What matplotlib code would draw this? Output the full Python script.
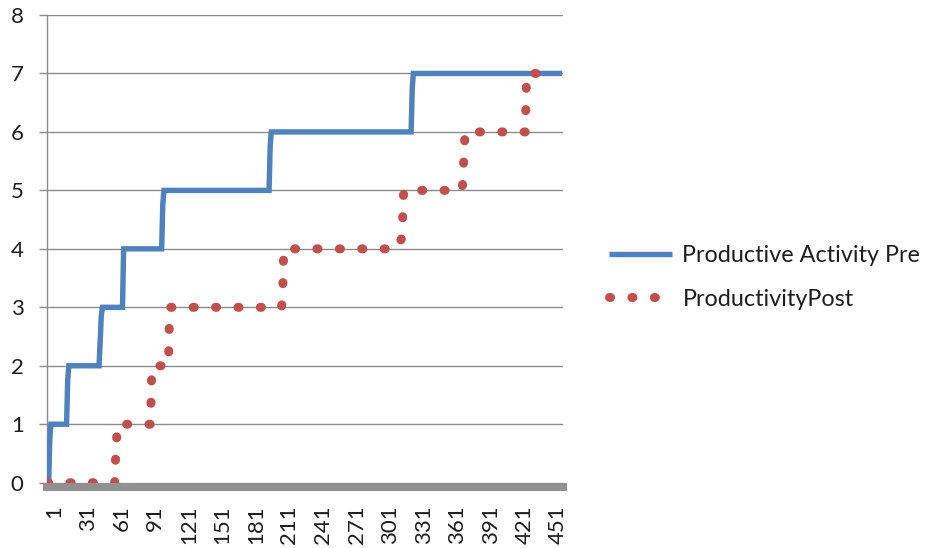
import matplotlib
matplotlib.use("Agg")
import matplotlib.pyplot as plt
import matplotlib.transforms as mtransforms
from matplotlib.lines import Line2D

# Day index (category number) and activity level at each vertex of the two curves
n_days = 461
pre_day = [1, 2, 3, 4, 18, 19, 20, 47, 48, 49, 50, 68, 69, 103, 104, 105,
           199, 200, 201, 326, 327, 328, 461]
pre_level = [0, 0, 0.75, 1, 1, 1.75, 2, 2, 2.4, 2.85, 3, 3, 4, 4, 4.75, 5,
             5, 5.75, 6, 6, 6.75, 7, 7]

post_day = [1, 61, 62, 63, 64, 93, 94, 95, 109, 110, 111, 210, 211, 212, 213,
            313, 318, 319, 320, 371, 372, 373, 374, 375, 428, 429, 430, 439]
post_level = [0, 0, 0.5, 0.85, 1, 1, 1.8, 2, 2, 2.85, 3, 3, 3.1, 3.9, 4,
              4, 4.2, 4.9, 5, 5, 5.1, 5.5, 5.9, 6, 6, 6.8, 7, 7]

series_names = ["Productive Activity Pre", "ProductivityPost"]
x_tick_days = list(range(1, 452, 30))
y_ticks = list(range(0, 9))

BLUE = "#4F81BD"
RED = "#C0504D"
GRID = "#8c8c8c"
TEXT = "#1e1e1e"
FS = 16

plt.rcParams["font.family"] = ["Lato", "DejaVu Sans"]

fig = plt.figure(figsize=(9.31, 5.48), dpi=100)
ax = fig.add_axes([47 / 931, 1 - 482.7 / 548, (562.7 - 47) / 931, (482.7 - 15) / 548])

pre_style = dict(color=BLUE, lw=3.9, solid_joinstyle="miter", solid_capstyle="butt")
# round dots roughly 9 px across, repeating every ~22 px along the path
post_style = dict(color=RED, lw=6.5, linestyle=(0, (0.12, 2.36)),
                  dash_capstyle="round")

ax.plot(pre_day, pre_level, zorder=3, **pre_style)
ax.plot(post_day, post_level, zorder=4, **post_style)

ax.set_xlim(0.5, n_days + 0.5)
ax.set_ylim(0, 8)

# Horizontal gridlines only
ax.set_axisbelow(True)
ax.yaxis.grid(True, color=GRID, lw=1.0)
ax.xaxis.grid(False)

for side in ("top", "right"):
    ax.spines[side].set_visible(False)
ax.spines["left"].set_color(GRID)
ax.spines["left"].set_linewidth(1.0)
ax.spines["bottom"].set_color("#909090")
ax.spines["bottom"].set_linewidth(5.76)
ax.spines["bottom"].set_position(("outward", 2.88))

ax.set_yticks(y_ticks)
ax.set_yticklabels([str(v) for v in y_ticks])
ax.tick_params(axis="y", length=6, width=1, color=GRID, pad=10.8,
               labelsize=FS, labelcolor=TEXT)

ax.set_xticks(x_tick_days)
ax.set_xticklabels([str(v) for v in x_tick_days])
ax.tick_params(axis="x", length=0, pad=13.5, labelsize=FS, labelcolor=TEXT,
               labelrotation=90)
shift = mtransforms.ScaledTranslation(7 / 100, 0, fig.dpi_scale_trans)
for lab in ax.get_xticklabels():
    lab.set_transform(lab.get_transform() + shift)
    lab.set_verticalalignment("top")

handles = [Line2D([], [], **pre_style), Line2D([], [], **post_style)]
leg = fig.legend(handles, series_names, loc="center left",
                 bbox_to_anchor=(609 / 931, 1 - 277.5 / 548),
                 frameon=False, fontsize=16.8, handlelength=2.7,
                 handletextpad=0.45, labelspacing=0.95,
                 borderpad=0, borderaxespad=0)
for t in leg.get_texts():
    t.set_color(TEXT)

fig.savefig("out.png", dpi=100)
